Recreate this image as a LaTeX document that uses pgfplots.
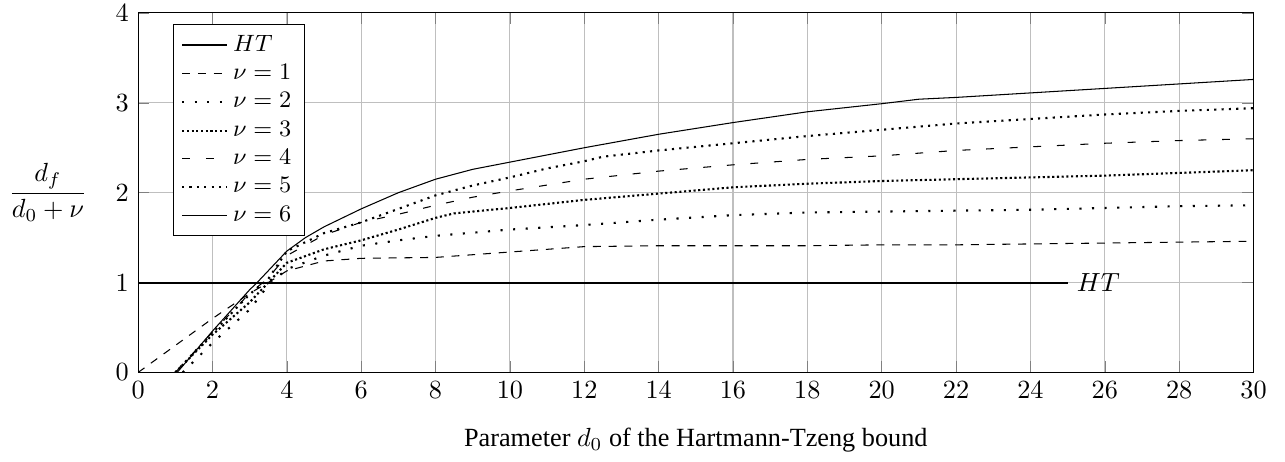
\documentclass[border=0pt]{standalone}
\usepackage{pgfplots}
\pgfplotsset{compat=1.18}
\usepackage{fontspec}
\setmainfont{Liberation Serif}
\begin{document}
\begin{tikzpicture}
\begin{axis}[
  scale only axis,
  width=425pt, height=137pt,
  xmin=0, xmax=30, ymin=0, ymax=4,
  xtick={0,2,...,30}, ytick={0,1,2,3,4},
  yticklabel style={inner ysep=1.7pt},
  grid=major,
  xlabel={Parameter $d_0$ of the Hartmann-Tzeng bound},
  xlabel style={yshift=-4.5pt},
  ylabel={$\displaystyle\frac{d_f}{d_0+\nu}$},
  ylabel style={rotate=-90, at={(ticklabel cs:0.5)}, anchor=east, xshift=-4pt},
  legend style={at={(0.031,0.969)}, anchor=north west, cells={anchor=west},
    font=\small, row sep=-0.5pt},
  legend cell align=left,
]
\addplot[black, thick] coordinates {(0,1) (25,1)};
\addlegendentry{$HT$}
% nu = 1
\addplot[black, dashed] coordinates {
  (0,0) (1,0.3) (2,0.6) (3,0.88) (3.5,1.0) (4,1.13) (5,1.24) (6,1.27) (8,1.28)
  (10,1.34) (12,1.4) (14,1.41) (16,1.41) (18,1.41) (20,1.42) (22,1.42)
  (24,1.43) (26,1.44) (28,1.45) (30,1.46)};
\addlegendentry{$\nu=1$}
% nu = 2
\addplot[black, loosely dotted, line width=0.8pt] coordinates {
  (1.2,0) (2,0.33) (3,0.7) (3.5,0.97) (4,1.15) (5,1.3) (6,1.41) (7,1.47)
  (8,1.52) (10,1.59) (12,1.64) (14,1.7) (16,1.75) (18,1.78) (20,1.79)
  (22,1.8) (24,1.81) (26,1.83) (28,1.85) (30,1.86)};
\addlegendentry{$\nu=2$}
% nu = 3
\addplot[black, densely dotted, line width=0.8pt] coordinates {
  (1,0) (2,0.42) (3,0.78) (3.5,1.0) (4,1.22) (5,1.37) (6,1.47) (7,1.59)
  (8,1.72) (8.5,1.77) (10,1.83) (12,1.92) (14,1.99) (16,2.06) (18,2.1)
  (20,2.13) (22,2.15) (24,2.17) (26,2.19) (28,2.22) (30,2.25)};
\addlegendentry{$\nu=3$}
% nu = 4
\addplot[black, loosely dashed] coordinates {
  (1,0) (2,0.45) (3,0.88) (3.5,1.05) (4,1.3) (5,1.53) (6,1.67) (7,1.76)
  (8,1.86) (9,1.95) (10,2.02) (12,2.15) (14,2.24) (16,2.31) (18,2.37)
  (20,2.41) (22,2.47) (24,2.51) (26,2.55) (28,2.58) (30,2.6)};
\addlegendentry{$\nu=4$}
% nu = 5
\addplot[black, dotted, line width=0.8pt] coordinates {
  (1,0) (2,0.44) (3,0.87) (3.5,1.04) (4,1.35) (5,1.55) (6,1.67) (7,1.82)
  (8,1.97) (9,2.08) (10,2.17) (11,2.27) (12,2.35) (12.5,2.4) (14,2.47)
  (16,2.55) (18,2.63) (20,2.7) (22,2.77) (24,2.82) (26,2.87) (28,2.91) (30,2.94)};
\addlegendentry{$\nu=5$}
% nu = 6
\addplot[black] coordinates {
  (1.05,0) (2,0.46) (3,0.92) (3.2,1.0) (4,1.35) (4.5,1.5) (5,1.62) (6,1.82) (7,2.0)
  (8,2.15) (9,2.26) (10,2.34) (12,2.5) (14,2.65) (16,2.78) (18,2.9)
  (20,2.99) (21,3.04) (22,3.06) (24,3.11) (26,3.16) (28,3.21) (30,3.26)};
\addlegendentry{$\nu=6$}
\node[right] at (axis cs:25,1) {$HT$};
\end{axis}
\path (current axis.south east) ++(12pt,0) coordinate (extra);
\end{tikzpicture}
\end{document}
